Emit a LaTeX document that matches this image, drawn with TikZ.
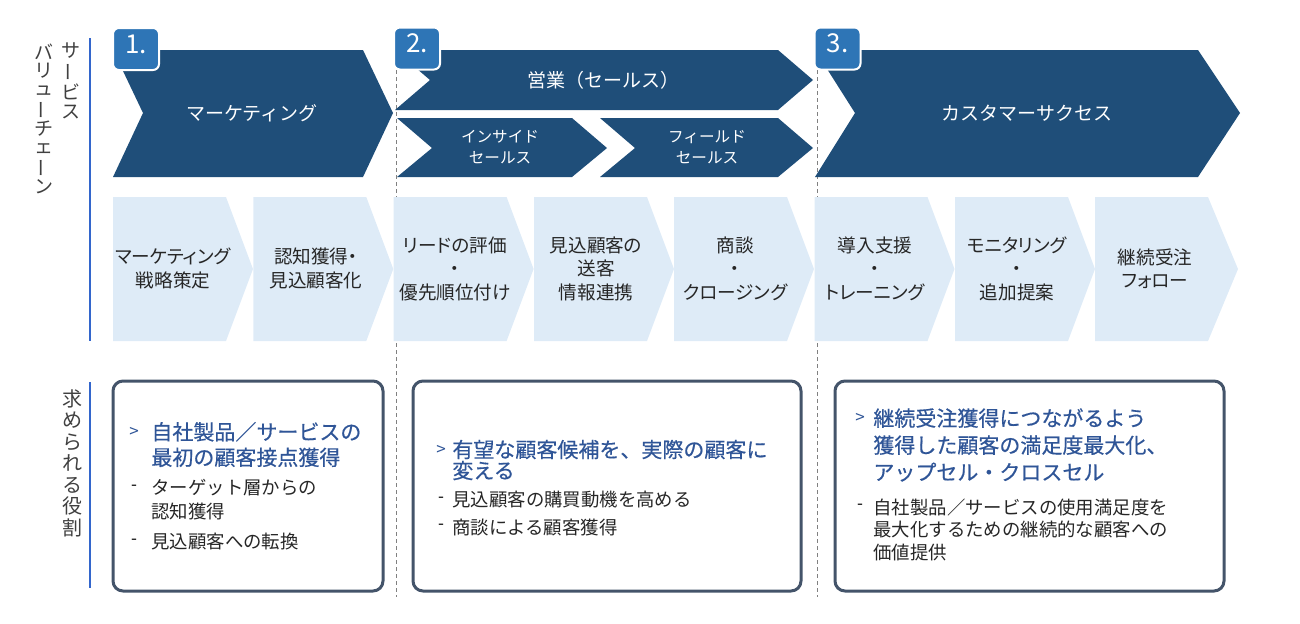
\documentclass[tikz,border=0pt]{standalone}
\usepackage{fontspec}
\usepackage{graphicx}
\setmainfont{Noto Sans CJK JP}
\newfontfamily\paltfont[RawFeature=+palt]{Noto Sans CJK JP}
\newfontfamily\headfont[FakeBold=0.5]{Noto Sans CJK JP}
\definecolor{navy}{HTML}{1F4E79}
\definecolor{badgeblue}{HTML}{2E75B6}
\definecolor{paleblue}{HTML}{DEEBF7}
\definecolor{slate}{HTML}{44546A}
\definecolor{headblue}{HTML}{2F5597}
\definecolor{rulerblue}{HTML}{3366CC}
\definecolor{labelgray}{HTML}{404040}
\definecolor{bodytext}{HTML}{262626}
\newcommand{\vchoon}{\rotatebox[origin=c]{90}{ー}}

\tikzset{
  darkchev/.style={fill=navy},
  palechev/.style={fill=paleblue},
  badge/.style={fill=badgeblue, draw=white, line width=1pt, rounded corners=3pt,
    minimum width=23pt, minimum height=21pt, inner sep=0, text=white, text depth=5pt,
    font=\fontsize{13}{13}\selectfont},
  stagebox/.style={draw=slate, line width=1.5pt, rounded corners=5pt},
  sepline/.style={draw=gray, line width=0.5pt, dash pattern=on 2pt off 1.5pt},
  ruler/.style={draw=rulerblue, line width=1pt},
  sidelabel/.style={text=labelgray, align=center, anchor=north, inner sep=0},
  chevtext/.style={text=white, inner sep=0, font=\fontsize{9.5}{11}\selectfont},
  subtext/.style={text=white, align=center, inner sep=0, font=\fontsize{7.8}{10.5}\selectfont},
  paletext/.style={text=bodytext, align=center, inner sep=0, font=\paltfont\fontsize{9.3}{11.75}\selectfont},
  pointer/.style={inner sep=0, font=\fontsize{8.5}{8.5}\selectfont},
  heading/.style={text=headblue, align=left, anchor=west, inner sep=0,
    font=\headfont\fontsize{10.5}{#1}\selectfont},
  roleitem/.style={text=bodytext, align=left, anchor=west, inner sep=0,
    font=\fontsize{9.2}{#1}\selectfont},
}

\begin{document}
\begin{tikzpicture}[x=0.5pt, y=-0.5pt]
\useasboundingbox (0,0) rectangle (1300,623);

% side labels
\node[sidelabel, font=\fontsize{9.5}{9.6}\selectfont] (svc) at (71,42) {サ\\\vchoon\\ビ\\ス};
\node[sidelabel, font=\fontsize{9.5}{9}\selectfont] (chain) at (44,44) {バ\\リ\\ュ\\\vchoon\\チ\\ェ\\\vchoon\\ン};
\node[sidelabel, font=\fontsize{10}{10.75}\selectfont] (role) at (72,389) {求\\め\\ら\\れ\\る\\役\\割};
\coordinate (r1t) at (90,38);
\coordinate (r1b) at (90,341);
\coordinate (r2t) at (90,382);
\coordinate (r2b) at (90,588);
\draw[ruler] (r1t) -- (r1b);
\draw[ruler] (r2t) -- (r2b);

% phase separators
\coordinate (s1t) at (396,70);
\coordinate (s1b) at (396,597);
\coordinate (s2t) at (817,70);
\coordinate (s2b) at (817,597);
\draw[sepline] (s1t) -- (s1b);
\draw[sepline] (s2t) -- (s2b);

% dark chevrons
\fill[darkchev] (113,50) -- (363,50) -- (393,113) -- (363,177) -- (113,177) -- (143,113) -- cycle;
\fill[darkchev] (395,50) -- (778,50) -- (813,80) -- (778,110) -- (395,110) -- (430,80) -- cycle;
\fill[darkchev] (397,118) -- (572,118) -- (607,148) -- (572,177) -- (397,177) -- (432,148) -- cycle;
\fill[darkchev] (600,118) -- (778,118) -- (813,148) -- (778,177) -- (600,177) -- (635,148) -- cycle;
\fill[darkchev] (815,50) -- (1198,50) -- (1240,113) -- (1198,177) -- (815,177) -- (855,113) -- cycle;
\node[chevtext] (mkt) at (252,113) {マーケティング};
\node[chevtext] (sales) at (603,80) {営業（セールス）};
\node[subtext] (inside) at (500,147.5) {インサイド\\セールス};
\node[subtext] (field) at (707,147.5) {フィールド\\セールス};
\node[chevtext] (cs) at (1027,113) {カスタマーサクセス};

% badges
\node[badge] (b1) at (136,49) {1.};
\node[badge] (b2) at (417,48.5) {2.};
\node[badge] (b3) at (837.5,48.5) {3.};

% pale chevrons
\fill[palechev] (113,197) -- ++(113,0) -- ++(27,72) -- ++(-27,72) -- ++(-113,0) -- cycle;
\fill[palechev] (253.3,197) -- ++(113,0) -- ++(27,72) -- ++(-27,72) -- ++(-113,0) -- cycle;
\fill[palechev] (393.6,197) -- ++(113,0) -- ++(27,72) -- ++(-27,72) -- ++(-113,0) -- cycle;
\fill[palechev] (534,197) -- ++(113,0) -- ++(27,72) -- ++(-27,72) -- ++(-113,0) -- cycle;
\fill[palechev] (674,197) -- ++(113,0) -- ++(27,72) -- ++(-27,72) -- ++(-113,0) -- cycle;
\fill[palechev] (814.5,197) -- ++(113,0) -- ++(27,72) -- ++(-27,72) -- ++(-113,0) -- cycle;
\fill[palechev] (955,197) -- ++(113,0) -- ++(27,72) -- ++(-27,72) -- ++(-113,0) -- cycle;
\fill[palechev] (1095,197) -- ++(113,0) -- ++(30,72) -- ++(-30,72) -- ++(-113,0) -- cycle;
\node[paletext] (p1) at (173,268.5) {マーケティング\\戦略策定};
\node[paletext] (p2) at (316,268.5) {認知獲得・\\見込顧客化};
\node[paletext] (p3) at (455,268.5) {リードの評価\\・\\優先順位付け};
\node[paletext] (p4) at (596,268.5) {見込顧客の\\送客\\情報連携};
\node[paletext] (p5) at (735,268.5) {商談\\・\\クロージング};
\node[paletext] (p6) at (875,268.5) {導入支援\\・\\トレーニング};
\node[paletext] (p7) at (1017,268.5) {モニタリング\\・\\追加提案};
\node[paletext] (p8) at (1155,268.5) {継続受注\\フォロー};

% role boxes
\node[stagebox, minimum width=135pt, minimum height=105pt] (role1) at (248,486) {};
\node[stagebox, minimum width=194pt, minimum height=105pt] (role2) at (607,486) {};
\node[stagebox, minimum width=194.5pt, minimum height=105pt] (role3) at (1029.5,486) {};

\node[pointer, text=headblue] (g1) at (134,432) {>};
\node[heading=12.75] (h1) at (151,444.5) {自社製品／サービスの\\最初の顧客接点獲得};
\node[pointer] (d11) at (134,488) {-};
\node[roleitem=12] (i11) at (151,500) {ターゲット層からの\\認知獲得};
\node[pointer] (d12) at (134,542) {-};
\node[roleitem=12] (i12) at (151,542) {見込顧客への転換};

\node[pointer, text=headblue] (g2) at (441,450) {>};
\node[heading=10.5] (h2) at (452,460) {有望な顧客候補を、実際の顧客に\\変える};
\node[pointer] (d21) at (441,500) {-};
\node[roleitem=12] (i21) at (452,500) {見込顧客の購買動機を高める};
\node[pointer] (d22) at (441,527) {-};
\node[roleitem=12] (i22) at (452,527) {商談による顧客獲得};

\node[pointer, text=headblue] (g3) at (860,418) {>};
\node[heading=13.5] (h3) at (873,445) {継続受注獲得につながるよう\\獲得した顧客の満足度最大化、\\アップセル・クロスセル};
\node[pointer] (d31) at (860,507) {-};
\node[roleitem=11.25] (i31) at (873,529.5) {自社製品／サービスの使用満足度を\\最大化するための継続的な顧客への\\価値提供};

\end{tikzpicture}
\end{document}
